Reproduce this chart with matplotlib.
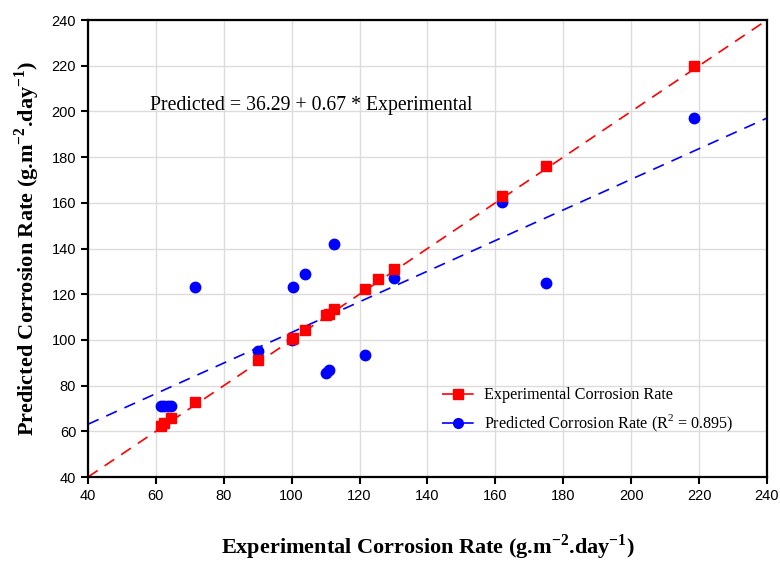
import numpy as np
import matplotlib.pyplot as plt

# Data
exp_x = [61.5, 62.5, 64.5, 71.5, 90, 100, 100.5, 104, 110, 111, 112.5, 121.5, 125.5, 130, 162, 175, 218.5]
exp_y = [62.5, 63.5, 66, 73, 91, 100.5, 101, 104.5, 111, 111.5, 113.5, 122.5, 126.5, 131, 163, 176, 220]

pred_x = [61.5, 62.5, 63.5, 64.5, 71.5, 90, 100, 100.5, 104, 110, 111, 112.5, 121.5, 130, 162, 175, 218.5]
pred_y = [71, 71, 71, 71, 123, 95, 100, 123, 129, 85.5, 87, 142, 93.5, 127, 160.5, 125, 197]

# regression: Predicted = 36.29 + 0.67 * Experimental
intercept = 36.29
slope = 0.67
line_x = np.array([40, 240])

plt.rcParams['font.family'] = 'Liberation Sans'
plt.rcParams['mathtext.fontset'] = 'custom'
plt.rcParams['mathtext.rm'] = 'Liberation Serif'
plt.rcParams['mathtext.bf'] = 'Liberation Serif:bold'

fig = plt.figure(figsize=(7.8, 5.61), dpi=100)
ax = fig.add_axes([0.1128, 0.1497, 0.8705, 0.8146])

dash = (0, (7, 5))
ax.plot(line_x, line_x, color='red', linestyle=dash, linewidth=1.2, zorder=2)
ax.plot(line_x, intercept + slope * line_x, color='blue', linestyle=dash, linewidth=1.2, zorder=2)

ax.plot(pred_x, pred_y, 'o', color='blue', markersize=7.5, linestyle='none', zorder=3)
ax.plot(exp_x, exp_y, 's', color='red', markersize=7.5, linestyle='none', zorder=4)

# legend proxies
h1, = ax.plot([], [], color='red', linestyle=dash, marker='s', markersize=7, linewidth=1.2)
h2, = ax.plot([], [], color='blue', linestyle=dash, marker='o', markersize=7, linewidth=1.2)
ax.legend([h1, h2], ['Experimental Corrosion Rate', 'Predicted Corrosion Rate (R$^\\mathrm{2}$ = 0.895)'],
          loc='upper left', bbox_to_anchor=(0.5, 0.228), frameon=False,
          prop={'family': 'Liberation Serif', 'size': 11.6}, handlelength=2.0,
          handletextpad=0.6, labelspacing=0.6)

ax.text(58.3, 202.5, 'Predicted = 36.29 + 0.67 * Experimental', fontsize=14.2,
        family='Liberation Serif', va='center')

ax.set_xlim(40, 240)
ax.set_ylim(40, 240)
ax.set_xticks(np.arange(40, 241, 20))
ax.set_yticks(np.arange(40, 241, 20))
ax.grid(True, color='#dcdcdc', linewidth=1)
ax.set_axisbelow(True)
ax.tick_params(direction='out', length=5, width=1.5, labelsize=10.5, colors='black')
for s in ax.spines.values():
    s.set_linewidth(1.6)
    s.set_color('black')

ax.set_xlabel('Experimental Corrosion Rate (g.m$^\\mathbf{-2}$.day$^\\mathbf{-1}$)',
              family='Liberation Serif', fontweight='bold', fontsize=16, labelpad=21)
ax.set_ylabel('Predicted Corrosion Rate (g.m$^\\mathbf{-2}$.day$^\\mathbf{-1}$)',
              family='Liberation Serif', fontweight='bold', fontsize=16, labelpad=7)

fig.savefig('out.png', dpi=100)
